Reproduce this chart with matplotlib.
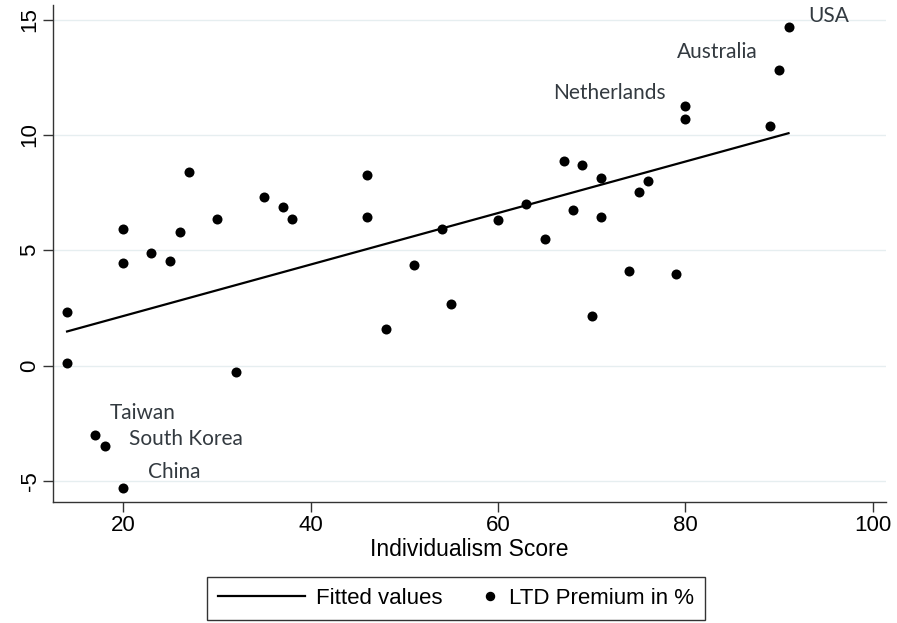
import matplotlib
matplotlib.use("Agg")
import matplotlib.pyplot as plt
import numpy as np
from matplotlib.legend_handler import HandlerBase
from matplotlib.lines import Line2D

# Individualism score vs. LTD premium (%), one point per country
individualism = [14, 14, 17, 18, 20, 20, 20, 23, 25, 26, 27, 30, 32, 35, 37, 38,
                 46, 46, 48, 51, 54, 55, 60, 63, 65, 67, 68, 69, 70, 71, 71, 74,
                 75, 76, 79, 80, 80, 89, 90, 91]
ltd_premium = [2.33, 0.12, -3.01, -3.48, -5.30, 4.46, 5.92, 4.89, 4.54, 5.80, 8.37,
               6.35, -0.27, 7.30, 6.86, 6.35, 8.26, 6.42, 1.58, 4.36, 5.93, 2.65,
               6.31, 7.00, 5.48, 8.88, 6.74, 8.69, 2.15, 8.13, 6.42, 4.10, 7.53,
               8.00, 3.97, 11.26, 10.70, 10.38, 12.80, 14.67]

country_labels = ["USA", "Australia", "Netherlands", "Taiwan", "South Korea", "China"]
label_x = [93.1, 79.1, 65.9, 18.6, 20.6, 22.6]
label_y = [15.15, 13.6, 11.8, -2.05, -3.2, -4.6]

x_ticks = [20, 40, 60, 80, 100]
y_ticks = [-5, 0, 5, 10, 15]

TICK_FONT = ["Liberation Sans", "DejaVu Sans"]
LABEL_FONT = ["Lato", "DejaVu Sans"]


class DotHandler(HandlerBase):
    # marker sits near the right end of its handle box, close to the text
    def create_artists(self, legend, orig_handle, xdescent, ydescent,
                       width, height, fontsize, trans):
        dot = Line2D([-xdescent + width - 6], [height / 2 - ydescent], marker="o",
                     markersize=5.8, color="black", linestyle="none", transform=trans)
        return [dot]


x = np.array(individualism, dtype=float)
y = np.array(ltd_premium, dtype=float)
slope, intercept = np.polyfit(x, y, 1)
fit_x = np.array([x.min(), x.max()])
fit_y = intercept + slope * fit_x

fig = plt.figure(figsize=(8.97, 6.23), dpi=100)
ax = fig.add_axes([0.0591, 0.194, 0.9286, 0.798])

for yt in y_ticks:
    ax.axhline(yt, color="#e6eef0", linewidth=1.0, zorder=0)

line, = ax.plot(fit_x, fit_y, color="black", linewidth=1.6, zorder=2, label="Fitted values")
pts = ax.scatter(x, y, s=52, color="black", zorder=3, linewidths=0, label="LTD Premium in %")

for name, lx, ly in zip(country_labels, label_x, label_y):
    ax.text(lx, ly, name, ha="left", va="center", fontsize=15,
            family=LABEL_FONT, color="#333a40")

ax.set_xlim(12.5, 101.4)
ax.set_ylim(-5.92, 15.63)
ax.set_xticks(x_ticks)
ax.set_yticks(y_ticks)
ax.set_xticklabels([str(t) for t in x_ticks], family=TICK_FONT, fontsize=16)
ax.set_yticklabels([str(t) for t in y_ticks], family=TICK_FONT, fontsize=16,
                   rotation=90, va="center")
ax.tick_params(axis="both", direction="out", length=7, width=1.0, color="#333333")
ax.tick_params(axis="x", pad=2)
ax.tick_params(axis="y", pad=2)
ax.set_xlabel("Individualism Score", family=TICK_FONT, fontsize=16.5, labelpad=2)

ax.spines["top"].set_visible(False)
ax.spines["right"].set_visible(False)
for side in ("left", "bottom"):
    ax.spines[side].set_color("#333333")
    ax.spines[side].set_linewidth(1.0)

leg = fig.legend([line, pts], ["Fitted values", "LTD Premium in %"], ncol=2,
                 loc="center", bbox_to_anchor=(456 / 897, 1 - 598.5 / 623),
                 frameon=True, fancybox=False, edgecolor="black",
                 prop={"family": TICK_FONT, "size": 16}, handlelength=3.9,
                 handletextpad=0.5, columnspacing=-1.4, borderpad=0.5,
                 handler_map={type(pts): DotHandler()})
leg.get_frame().set_linewidth(1.0)

fig.savefig("out.png", dpi=100, facecolor="white")
plt.close(fig)
